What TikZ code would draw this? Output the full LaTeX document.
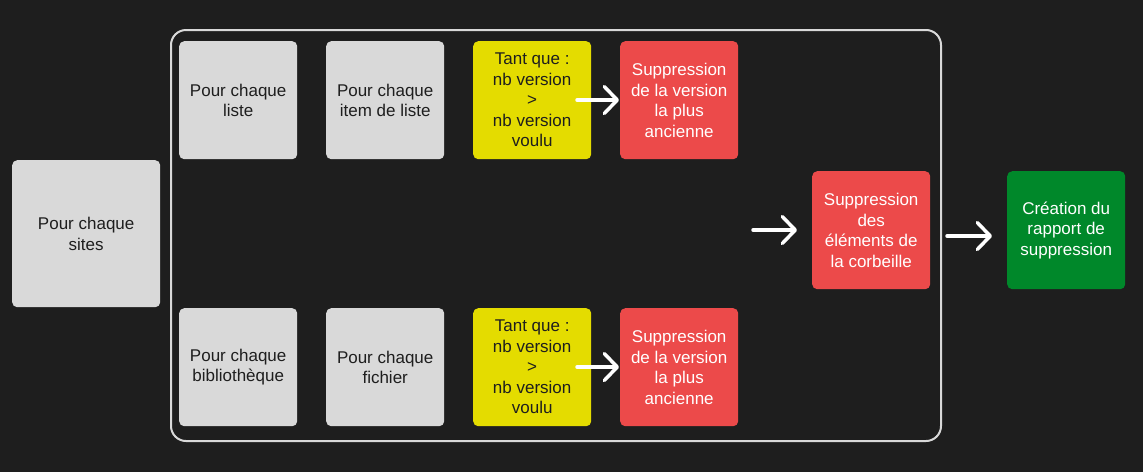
\documentclass[tikz,border=0pt]{standalone}
\usepackage{fontspec}
\setmainfont{Liberation Sans}
\usetikzlibrary{arrows.meta}
\definecolor{bg}{HTML}{1E1E1E}
\definecolor{boxgray}{HTML}{D9D9D9}
\definecolor{boxyellow}{HTML}{E4DC00}
\definecolor{boxred}{HTML}{EC4A4A}
\definecolor{boxgreen}{HTML}{00882A}
\definecolor{txtdark}{HTML}{1E1E1E}
\tikzset{
  card/.style={rounded corners=5pt, minimum width=118pt, minimum height=118pt, inner sep=0pt,
    align=center, font=\fontsize{17pt}{20.5pt}\selectfont, anchor=north west},
  graycard/.style={card, fill=boxgray, text=txtdark},
  yellowcard/.style={card, fill=boxyellow, text=txtdark},
  redcard/.style={card, fill=boxred, text=white},
  greencard/.style={card, fill=boxgreen, text=white},
  flow/.style={draw=white, line width=3.5pt, line cap=round,
    -{Straight Barb[length=13pt,width=27pt,line cap=round,line join=round]}},
}
\begin{document}
\begin{tikzpicture}[x=1pt,y=-1pt]
\fill[bg] (0,0) rectangle (1143,472);
\useasboundingbox (0,0) rectangle (1143,472);
% container
\node[draw=boxgray, line width=2pt, rounded corners=15pt, minimum width=770pt, minimum height=411pt, anchor=north west, inner sep=0pt] (cont) at (170,29) {};
% sites
\node[graycard, minimum width=148pt, minimum height=147pt] (sites) at (12,160) {Pour chaque\\sites};
% top row
\node[graycard] (liste) at (179,41) {Pour chaque\\liste};
\node[graycard] (item) at (326,41) {Pour chaque\\item de liste};
\node[yellowcard] (tq1) at (473,41) {Tant que :\\nb version\\>\\nb version\\voulu};
\node[redcard] (sv1) at (620,41) {Suppression\\de la version\\la plus\\ancienne};
% bottom row
\node[graycard] (bib) at (179,308) {Pour chaque\\bibliothèque};
\node[graycard] (fich) at (326,308) {Pour chaque\\fichier};
\node[yellowcard] (tq2) at (473,308) {Tant que :\\nb version\\>\\nb version\\voulu};
\node[redcard] (sv2) at (620,308) {Suppression\\de la version\\la plus\\ancienne};
% right
\node[redcard] (corb) at (812,171) {Suppression\\des\\éléments de\\la corbeille};
\node[greencard] (rap) at (1007,171) {Création du\\rapport de\\suppression};
% arrows
\coordinate (a1s) at (577,100);
\coordinate (a2s) at (577,367);
\coordinate (a3s) at (753,230);
\coordinate (a4s) at (947,236);
\draw[flow] (a1s) -- ([xshift=-1pt]sv1.west |- a1s);
\draw[flow] (a2s) -- ([xshift=-1pt]sv2.west |- a2s);
\draw[flow] (a3s) -- ([xshift=-15pt]corb.west |- a3s);
\draw[flow] (a4s) -- ([xshift=-15pt]rap.west |- a4s);
\end{tikzpicture}
\end{document}
